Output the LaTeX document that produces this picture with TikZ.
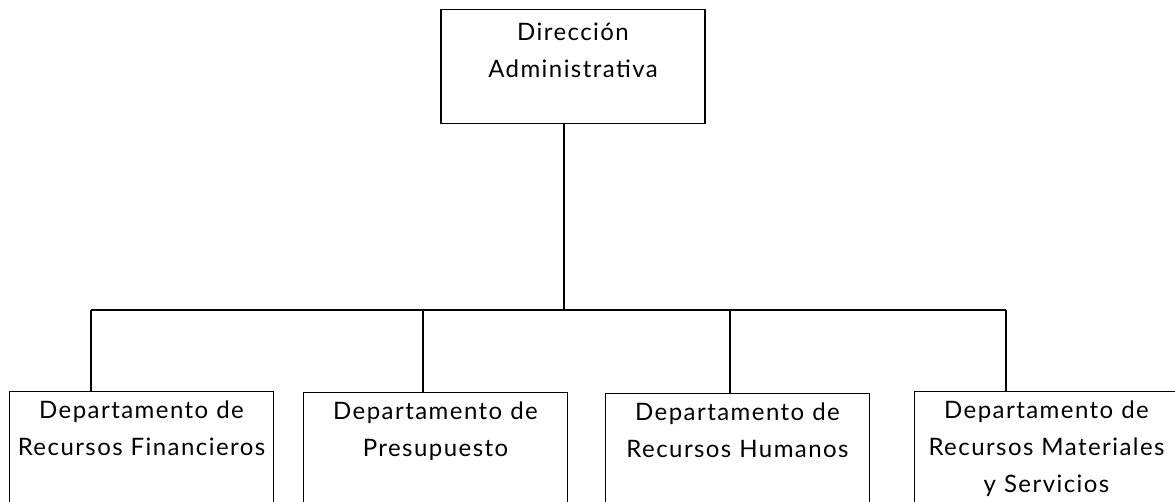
\documentclass[tikz,border=0pt]{standalone}
\usepackage{fontspec}
\setmainfont{Lato}[LetterSpace=6]
\usetikzlibrary{positioning}
\tikzset{
  unit/.style={draw, line width=0.6pt, anchor=north, align=center,
    inner xsep=1pt, inner ysep=0pt, text width=130pt,
    font=\fontsize{12}{18.5}\selectfont},
  dept/.style={unit, text height=13.5pt, text depth=60pt},
  link/.style={line width=0.6pt}
}
\begin{document}
\begin{tikzpicture}[x=0.5pt,y=-0.5pt]
% Page size
\useasboundingbox (0,0) rectangle (1175,502);
\clip (0,0) rectangle (1175,502);
% Head of the chart
\node[unit, text height=15.5pt, text depth=41.5pt] (dir) at (573,9) {Dirección\\Administrativa};
% Departments
\node[dept] (fin) at (141.5,391) {Departamento de\\Recursos Financieros};
\node[dept] (pre) at (435.5,392) {Departamento de\\Presupuesto};
\node[dept] (hum) at (737.5,393) {Departamento de\\Recursos Humanos};
\node[dept] (mat) at (1046.5,391) {Departamento de\\Recursos Materiales\\y Servicios};
% Joints on the bus
\coordinate (top) at (564,310);
\coordinate (j1) at (91,310);
\coordinate (j2) at (423,310);
\coordinate (j3) at (730,310);
\coordinate (j4) at (1006,310);
% Draw the bus
\draw[link] (dir.south -| top) -- (top);
\draw[link] (j1) -- (j4);
% Draw the drops
\draw[link] (j1) -- (j1 |- fin.north);
\draw[link] (j2) -- (j2 |- pre.north);
\draw[link] (j3) -- (j3 |- hum.north);
\draw[link] (j4) -- (j4 |- mat.north);
\end{tikzpicture}
\end{document}
